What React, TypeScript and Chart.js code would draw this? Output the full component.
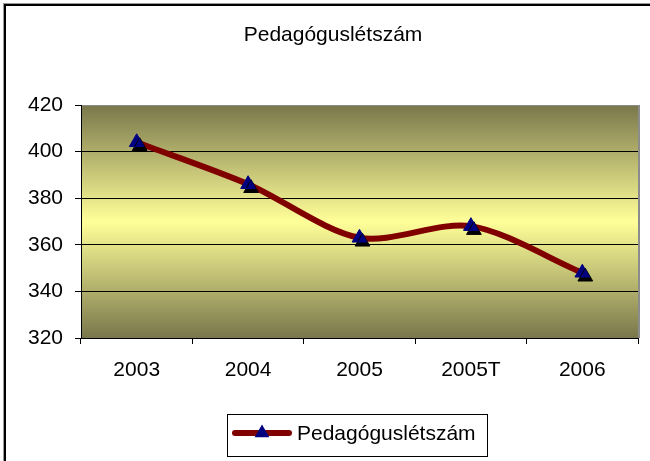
import React, { useEffect, useRef } from "react";
import { Chart, registerables } from "chart.js";

Chart.register(...registerables);

const chartTitle = "Pedagóguslétszám";
const seriesName = "Pedagóguslétszám";
const categories = ["2003", "2004", "2005", "2005T", "2006"];
const values = [404, 386, 363, 368, 348];
const yMin = 320;
const yMax = 420;
const yStep = 20;

const FONT = '"Liberation Sans", Arial, Helvetica, sans-serif';
const LINE_COLOR = "#800000";
const MARKER_COLOR = "#000080";

export default function App() {
  const ref = useRef<HTMLCanvasElement>(null);

  useEffect(() => {
    document.body.style.margin = "0";
    const canvas = ref.current;
    if (!canvas) return;

    const deco = {
      id: "deco",
      beforeDraw(chart: any) {
        const { ctx, chartArea: a } = chart;
        ctx.save();
        ctx.fillStyle = "#ffffff";
        ctx.fillRect(0, 0, chart.width, chart.height);
        const g = ctx.createLinearGradient(0, a.top, 0, a.bottom);
        g.addColorStop(0, "#79774b");
        g.addColorStop(0.5, "#ffff99");
        g.addColorStop(1, "#79774b");
        ctx.fillStyle = g;
        ctx.fillRect(a.left, a.top, a.right - a.left, a.bottom - a.top);
        // outer chart border (cropped on right/bottom)
        ctx.fillStyle = "#9a9a9a";
        ctx.fillRect(3, 3, chart.width, 1);
        ctx.fillRect(3, 3, 1, chart.height);
        ctx.fillStyle = "#000000";
        ctx.fillRect(4, 4, chart.width, 2);
        ctx.fillRect(4, 4, 2, chart.height);
        // title
        ctx.fillStyle = "#000000";
        ctx.font = `21px ${FONT}`;
        ctx.textAlign = "center";
        ctx.textBaseline = "middle";
        ctx.fillText(chartTitle, 333, 35);
        ctx.restore();
      },
      beforeDatasetsDraw(chart: any) {
        const { ctx, chartArea: a } = chart;
        ctx.save();
        ctx.strokeStyle = "#8c8c8c";
        ctx.lineWidth = 2;
        ctx.beginPath();
        ctx.moveTo(a.right + 1, a.top);
        ctx.lineTo(a.right + 1, a.bottom);
        ctx.stroke();
        ctx.restore();
      },
      beforeDatasetDraw(chart: any, args: any) {
        if (args.index === 1) {
          const ctx = chart.ctx;
          ctx.save();
          ctx.shadowColor = "#000000";
          ctx.shadowOffsetX = 3;
          ctx.shadowOffsetY = 4;
          ctx.shadowBlur = 0;
        }
      },
      afterDatasetDraw(chart: any, args: any) {
        if (args.index === 1) chart.ctx.restore();
      },
      afterDraw(chart: any) {
        const ctx = chart.ctx;
        ctx.save();
        // legend box
        ctx.strokeStyle = "#000000";
        ctx.lineWidth = 1;
        ctx.strokeRect(227.5, 414.5, 260, 42);
        // legend line
        ctx.strokeStyle = LINE_COLOR;
        ctx.lineWidth = 6;
        ctx.lineCap = "round";
        ctx.beginPath();
        ctx.moveTo(235, 433);
        ctx.lineTo(289, 433);
        ctx.stroke();
        // legend marker
        const cx = 262, cy = 433, r = 8.5;
        ctx.fillStyle = MARKER_COLOR;
        ctx.beginPath();
        ctx.moveTo(cx, cy - r);
        ctx.lineTo(cx + r * Math.sin((2 * Math.PI) / 3), cy + r / 2);
        ctx.lineTo(cx - r * Math.sin((2 * Math.PI) / 3), cy + r / 2);
        ctx.closePath();
        ctx.fill();
        // legend text
        ctx.fillStyle = "#000000";
        ctx.font = `21px ${FONT}`;
        ctx.textAlign = "left";
        ctx.textBaseline = "middle";
        ctx.fillText(seriesName, 297, 434);
        ctx.restore();
      },
    };

    const chart = new Chart(canvas, {
      type: "line",
      data: {
        labels: categories,
        datasets: [
          {
            label: seriesName,
            data: values,
            borderColor: LINE_COLOR,
            borderWidth: 6,
            borderCapStyle: "round",
            borderJoinStyle: "round",
            tension: 0.3,
            pointRadius: 0,
            fill: false,
            order: 2,
          },
          {
            label: "markers",
            data: values,
            showLine: false,
            pointStyle: "triangle",
            pointRadius: 8.5,
            pointBackgroundColor: MARKER_COLOR,
            pointBorderColor: MARKER_COLOR,
            pointBorderWidth: 1,
            order: 1,
          },
        ],
      },
      options: {
        responsive: false,
        animation: false,
        events: [],
        layout: { padding: { top: 105, right: 12, left: 0, bottom: 0 } },
        plugins: {
          legend: { display: false },
          title: { display: false },
          tooltip: { enabled: false },
        },
        scales: {
          x: {
            offset: true,
            grid: {
              offset: true,
              drawOnChartArea: false,
              color: "#000000",
              tickColor: "#000000",
              tickLength: 6,
            },
            border: { display: true, color: "#000000", width: 1 },
            ticks: {
              color: "#000000",
              font: { family: FONT, size: 21 },
              padding: 14,
              maxRotation: 0,
              autoSkip: false,
            },
            afterFit(scale: any) {
              scale.height = 123;
            },
          },
          y: {
            min: yMin,
            max: yMax,
            ticks: {
              stepSize: yStep,
              color: "#000000",
              font: { family: FONT, size: 21 },
              padding: 12,
            },
            grid: {
              color: (c: any) => (c.tick && c.tick.value === yMax ? "#8c8c8c" : "#000000"),
              tickColor: "#000000",
              tickLength: 6,
              lineWidth: 1,
            },
            border: { display: true, color: "#000000", width: 1 },
            afterFit(scale: any) {
              scale.width = 81;
            },
          },
        },
      },
      plugins: [deco],
    });

    return () => chart.destroy();
  }, []);

  return <canvas ref={ref} width={650} height={461} style={{ display: "block" }} />;
}
